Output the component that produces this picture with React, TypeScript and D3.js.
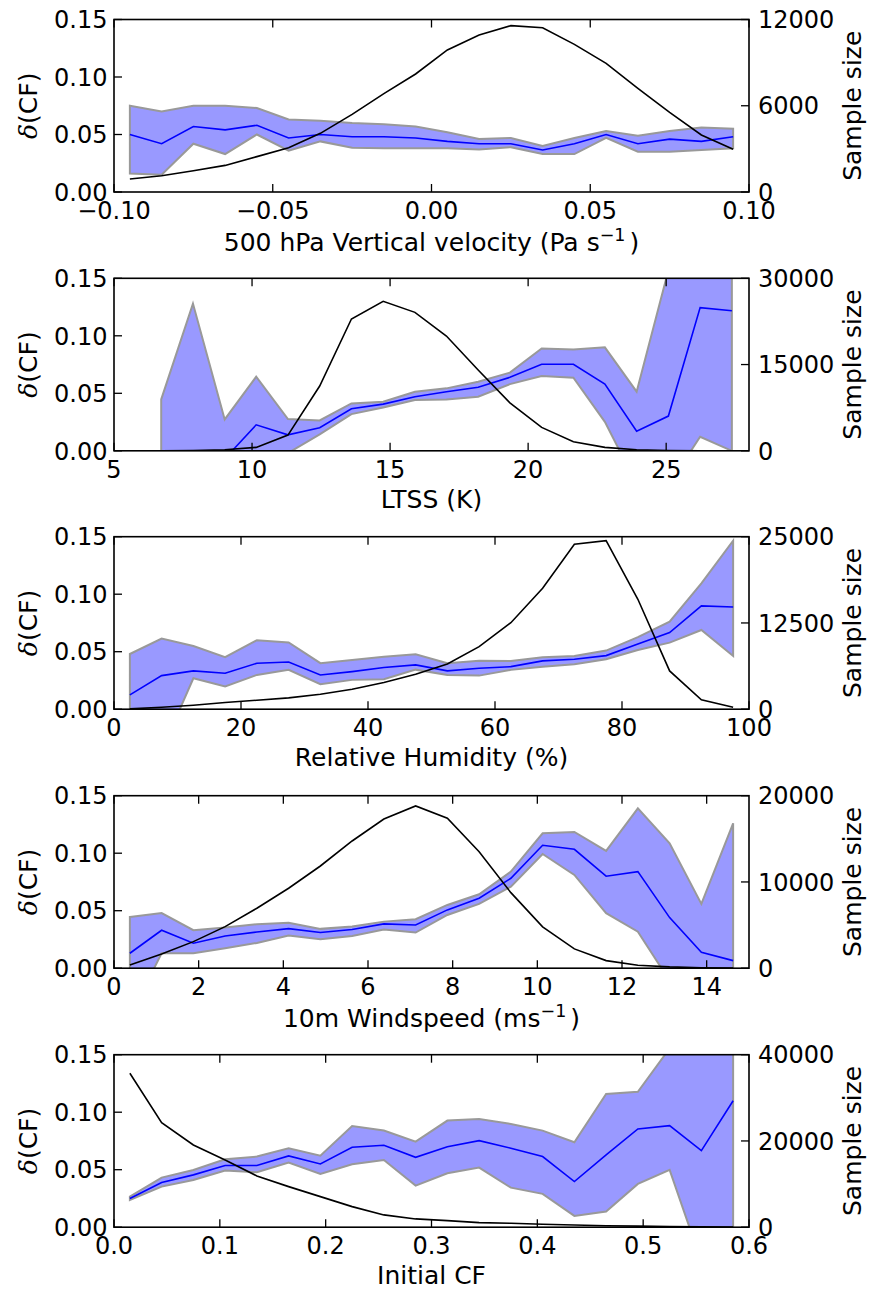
import React from 'react';
import * as d3 from 'd3';

// ---- 500 hPa vertical velocity ----
const vvX = [-0.095, -0.085, -0.075, -0.065, -0.055, -0.045, -0.035, -0.025, -0.015, -0.005, 0.005, 0.015, 0.025, 0.035, 0.045, 0.055, 0.065, 0.075, 0.085, 0.095];
const vvMean = [0.050, 0.042, 0.057, 0.054, 0.058, 0.047, 0.050, 0.048, 0.048, 0.047, 0.044, 0.042, 0.042, 0.0365, 0.042, 0.050, 0.042, 0.046, 0.044, 0.048];
const vvHigh = [0.075, 0.070, 0.075, 0.075, 0.073, 0.063, 0.062, 0.060, 0.059, 0.057, 0.052, 0.046, 0.047, 0.040, 0.047, 0.053, 0.049, 0.053, 0.056, 0.055];
const vvLow = [0.016, 0.015, 0.042, 0.033, 0.050, 0.036, 0.044, 0.0385, 0.038, 0.038, 0.038, 0.037, 0.039, 0.033, 0.033, 0.047, 0.035, 0.035, 0.0365, 0.038];
const vvCount = [900, 1130, 1480, 1850, 2460, 3080, 4080, 5400, 6840, 8210, 9880, 10920, 11570, 11430, 10270, 8950, 7210, 5540, 3965, 2970];
const vvTicks = [-0.1, -0.05, 0, 0.05, 0.1];
const vvCountTicks = [0, 6000, 12000];

// ---- LTSS ----
const ltssX = [6.71, 7.86, 9.01, 10.15, 11.3, 12.45, 13.6, 14.75, 15.9, 17.04, 18.19, 19.34, 20.49, 21.64, 22.78, 23.93, 25.08, 26.23, 27.38];
const ltssMean = [-0.01, -0.01, -0.007, 0.0226, 0.0139, 0.020, 0.0366, 0.0406, 0.047, 0.0514, 0.0552, 0.0639, 0.0752, 0.0752, 0.058, 0.0171, 0.0302, 0.1245, 0.1218];
const ltssHigh = [0.0447, 0.128, 0.0273, 0.0644, 0.0276, 0.0264, 0.0412, 0.0427, 0.0514, 0.0543, 0.060, 0.068, 0.089, 0.088, 0.090, 0.0514, 0.157, 0.20, 0.20];
const ltssLow = [-0.03, -0.03, -0.03, -0.02, -0.002, 0.0143, 0.0319, 0.0377, 0.0441, 0.0447, 0.047, 0.058, 0.065, 0.0635, 0.0252, -0.029, -0.03, 0.0122, 0.0];
const ltssCount = [10, 30, 170, 590, 2730, 11260, 22920, 26000, 24080, 19960, 14040, 8350, 4070, 1570, 590, 170, 40, 15, 5];
const ltssTicks = [5, 10, 15, 20, 25];
const ltssCountTicks = [0, 15000, 30000];

// ---- Relative humidity ----
const rhX = [2.5, 7.5, 12.5, 17.5, 22.5, 27.5, 32.5, 37.5, 42.5, 47.5, 52.5, 57.5, 62.5, 67.5, 72.5, 77.5, 82.5, 87.5, 92.5, 97.5];
const rhMean = [0.0124, 0.0292, 0.0333, 0.0313, 0.040, 0.0411, 0.0298, 0.0327, 0.0362, 0.0385, 0.0333, 0.0356, 0.037, 0.042, 0.0434, 0.0466, 0.0567, 0.0666, 0.0898, 0.0889];
const rhHigh = [0.048, 0.0614, 0.055, 0.0452, 0.060, 0.058, 0.040, 0.0428, 0.0457, 0.0478, 0.040, 0.0422, 0.042, 0.0452, 0.0463, 0.051, 0.0626, 0.0761, 0.1095, 0.1465];
const rhLow = [-0.03, -0.036, 0.0269, 0.0197, 0.0298, 0.0342, 0.0217, 0.0255, 0.026, 0.0344, 0.0298, 0.0292, 0.0342, 0.037, 0.0391, 0.0434, 0.0515, 0.0579, 0.0689, 0.0463];
const rhCount = [50, 290, 580, 960, 1300, 1640, 2170, 2900, 3860, 5070, 6560, 9070, 12540, 17520, 23900, 24420, 15930, 5550, 1350, 290];
const rhTicks = [0, 20, 40, 60, 80, 100];
const rhCountTicks = [0, 12500, 25000];

// ---- 10 m windspeed ----
const windX = [0.375, 1.125, 1.875, 2.625, 3.375, 4.125, 4.875, 5.625, 6.375, 7.125, 7.875, 8.625, 9.375, 10.125, 10.875, 11.625, 12.375, 13.125, 13.875, 14.625];
const windMean = [0.013, 0.033, 0.0217, 0.028, 0.0315, 0.0344, 0.031, 0.0336, 0.0385, 0.0376, 0.0507, 0.0608, 0.0782, 0.1069, 0.1034, 0.080, 0.084, 0.044, 0.0139, 0.0066];
const windHigh = [0.0446, 0.048, 0.033, 0.0353, 0.0382, 0.0396, 0.0342, 0.0362, 0.0405, 0.0426, 0.055, 0.0643, 0.084, 0.1173, 0.1185, 0.102, 0.139, 0.1086, 0.0559, 0.126];
const windLow = [-0.042, 0.013, 0.013, 0.0174, 0.022, 0.0284, 0.0252, 0.028, 0.0336, 0.031, 0.0463, 0.0559, 0.0709, 0.0993, 0.0811, 0.0478, 0.0318, -0.011, -0.03, -0.03];
const windCount = [380, 1660, 3080, 4820, 6950, 9270, 11850, 14750, 17300, 18810, 17380, 13510, 8760, 4790, 2240, 880, 350, 150, 60, 30];
const windTicks = [0, 2, 4, 6, 8, 10, 12, 14];
const windCountTicks = [0, 10000, 20000];

// ---- Initial cloud fraction ----
const cfX = [0.015, 0.045, 0.075, 0.105, 0.135, 0.165, 0.195, 0.225, 0.255, 0.285, 0.315, 0.345, 0.375, 0.405, 0.435, 0.465, 0.495, 0.525, 0.555, 0.585];
const cfMean = [0.0249, 0.0388, 0.0455, 0.0536, 0.0536, 0.062, 0.055, 0.0695, 0.0713, 0.0608, 0.070, 0.0753, 0.0687, 0.0614, 0.0397, 0.0628, 0.0854, 0.0883, 0.0666, 0.110];
const cfHigh = [0.0266, 0.0431, 0.0498, 0.059, 0.0614, 0.0687, 0.0622, 0.088, 0.084, 0.0744, 0.0927, 0.0941, 0.0898, 0.084, 0.0739, 0.1158, 0.1178, 0.1555, 0.2, 0.2];
const cfLow = [0.0237, 0.0353, 0.0411, 0.0492, 0.0478, 0.0562, 0.0463, 0.0547, 0.0585, 0.0362, 0.0469, 0.0518, 0.0344, 0.029, 0.0098, 0.0136, 0.0376, 0.0498, -0.03, -0.03];
const cfCount = [35690, 24240, 19070, 15600, 11890, 9410, 7090, 4770, 2850, 1920, 1530, 1070, 900, 700, 500, 350, 250, 150, 80, 50];
const cfTicks = [0, 0.1, 0.2, 0.3, 0.4, 0.5, 0.6];
const cfCountTicks = [0, 20000, 40000];

const deltaTicks = [0, 0.05, 0.1, 0.15];

const W = 871;
const H = 1289;
const L = 114;
const R = 749;
const PH = 172.5;
const TOPS = [19.5, 278.3, 536.7, 795.7, 1054.7];
const FONT = '"DejaVu Sans", "Bitstream Vera Sans", sans-serif';
const TICK_FS = 24;
const LABEL_FS = 25;
const TICK_LEN = 8;

const minus = (s: string) => s.replace('-', '\u2212');

type PanelDef = {
  id: string;
  x: number[];
  mean: number[];
  low: number[];
  high: number[];
  count: number[];
  xDomain: [number, number];
  xTicks: number[];
  xFmt: (v: number) => string;
  countTicks: number[];
  xLabel: React.ReactNode;
  labelDrop: number;
};

const sup = (base: string, exp: string, tail: string) => (
  <>
    {base}
    <tspan fontSize={17.5} dy={-10}>{exp}</tspan>
    <tspan dy={10} dx={4}>{tail}</tspan>
  </>
);

const panels: PanelDef[] = [
  {
    id: 'vv', x: vvX, mean: vvMean, low: vvLow, high: vvHigh, count: vvCount,
    xDomain: [-0.1, 0.1], xTicks: vvTicks, xFmt: (v) => minus(d3.format('.2f')(v)),
    countTicks: vvCountTicks,
    xLabel: sup('500 hPa Vertical velocity (Pa s', '\u22121', ')'),
    labelDrop: 59,
  },
  {
    id: 'ltss', x: ltssX, mean: ltssMean, low: ltssLow, high: ltssHigh, count: ltssCount,
    xDomain: [5, 28], xTicks: ltssTicks, xFmt: (v) => d3.format('d')(v),
    countTicks: ltssCountTicks,
    xLabel: 'LTSS (K)',
    labelDrop: 57,
  },
  {
    id: 'rh', x: rhX, mean: rhMean, low: rhLow, high: rhHigh, count: rhCount,
    xDomain: [0, 100], xTicks: rhTicks, xFmt: (v) => d3.format('d')(v),
    countTicks: rhCountTicks,
    xLabel: 'Relative Humidity (%)',
    labelDrop: 57,
  },
  {
    id: 'wind', x: windX, mean: windMean, low: windLow, high: windHigh, count: windCount,
    xDomain: [0, 15], xTicks: windTicks, xFmt: (v) => d3.format('d')(v),
    countTicks: windCountTicks,
    xLabel: sup('10m Windspeed (ms', '\u22121', ')'),
    labelDrop: 59,
  },
  {
    id: 'cf', x: cfX, mean: cfMean, low: cfLow, high: cfHigh, count: cfCount,
    xDomain: [0, 0.6], xTicks: cfTicks, xFmt: (v) => d3.format('.1f')(v),
    countTicks: cfCountTicks,
    xLabel: 'Initial CF',
    labelDrop: 57,
  },
];

function Panel({ p, top }: { p: PanelDef; top: number }) {
  const bottom = top + PH;
  const x = d3.scaleLinear().domain(p.xDomain).range([L, R]);
  const y = d3.scaleLinear().domain([0, 0.15]).range([bottom, top]);
  const y2 = d3.scaleLinear().domain([0, p.countTicks[p.countTicks.length - 1]]).range([bottom, top]);
  const idx = d3.range(p.x.length);

  const band = d3.area<number>()
    .x((i) => x(p.x[i]))
    .y0((i) => y(p.low[i]))
    .y1((i) => y(p.high[i]));
  const meanLine = d3.line<number>().x((i) => x(p.x[i])).y((i) => y(p.mean[i]));
  const countLine = d3.line<number>().x((i) => x(p.x[i])).y((i) => y2(p.count[i]));

  const clipId = `clip-${p.id}`;
  const midY = (top + bottom) / 2;
  const midX = (L + R) / 2;

  return (
    <g>
      <defs>
        <clipPath id={clipId}>
          <rect x={L} y={top} width={R - L} height={PH} />
        </clipPath>
      </defs>
      <g clipPath={`url(#${clipId})`}>
        <path d={band(idx) ?? ''} fill="#9999ff" stroke="#999999" strokeWidth={2} strokeLinejoin="miter" />
        <path d={meanLine(idx) ?? ''} fill="none" stroke="#0000ff" strokeWidth={1.6} />
        <path d={countLine(idx) ?? ''} fill="none" stroke="#000000" strokeWidth={1.6} />
      </g>

      {/* x ticks, bottom and top, pointing inward */}
      {p.xTicks.map((t) => (
        <g key={`xt-${t}`}>
          <line x1={x(t)} x2={x(t)} y1={bottom} y2={bottom - TICK_LEN} stroke="#000" strokeWidth={1.3} />
          <line x1={x(t)} x2={x(t)} y1={top} y2={top + TICK_LEN} stroke="#000" strokeWidth={1.3} />
          <text x={x(t)} y={bottom + 27} textAnchor="middle" fontSize={TICK_FS}>{p.xFmt(t)}</text>
        </g>
      ))}

      {/* left axis: delta CF */}
      {deltaTicks.map((t) => (
        <g key={`yl-${t}`}>
          <line x1={L} x2={L + TICK_LEN} y1={y(t)} y2={y(t)} stroke="#000" strokeWidth={1.3} />
          <text x={L - 6.5} y={y(t) + 8.7} textAnchor="end" fontSize={TICK_FS}>{d3.format('.2f')(t)}</text>
        </g>
      ))}

      {/* right axis: sample size */}
      {p.countTicks.map((t) => (
        <g key={`yr-${t}`}>
          <line x1={R} x2={R - TICK_LEN} y1={y2(t)} y2={y2(t)} stroke="#000" strokeWidth={1.3} />
          <text x={R + 9} y={y2(t) + 8.7} textAnchor="start" fontSize={TICK_FS}>{String(t)}</text>
        </g>
      ))}

      <rect x={L} y={top} width={R - L} height={PH} fill="none" stroke="#000" strokeWidth={1.6} />

      <text x={midX} y={bottom + p.labelDrop} textAnchor="middle" fontSize={LABEL_FS}>{p.xLabel}</text>
      <text transform={`translate(37, ${midY}) rotate(-90)`} textAnchor="middle" fontSize={LABEL_FS}>
        <tspan fontStyle="italic" fontFamily='"DejaVu Serif", serif'>{'\u03b4'}</tspan>(CF)
      </text>
      <text transform={`translate(861, ${midY}) rotate(-90)`} textAnchor="middle" fontSize={LABEL_FS}>
        Sample size
      </text>
    </g>
  );
}

export default function App() {
  return (
    <svg
      width={W}
      height={H}
      viewBox={`0 0 ${W} ${H}`}
      style={{ position: 'absolute', left: 0, top: 0, background: '#fff' }}
      fontFamily={FONT}
      fill="#000"
    >
      <rect x={0} y={0} width={W} height={H} fill="#fff" />
      {panels.map((p, i) => (
        <Panel key={p.id} p={p} top={TOPS[i]} />
      ))}
    </svg>
  );
}
